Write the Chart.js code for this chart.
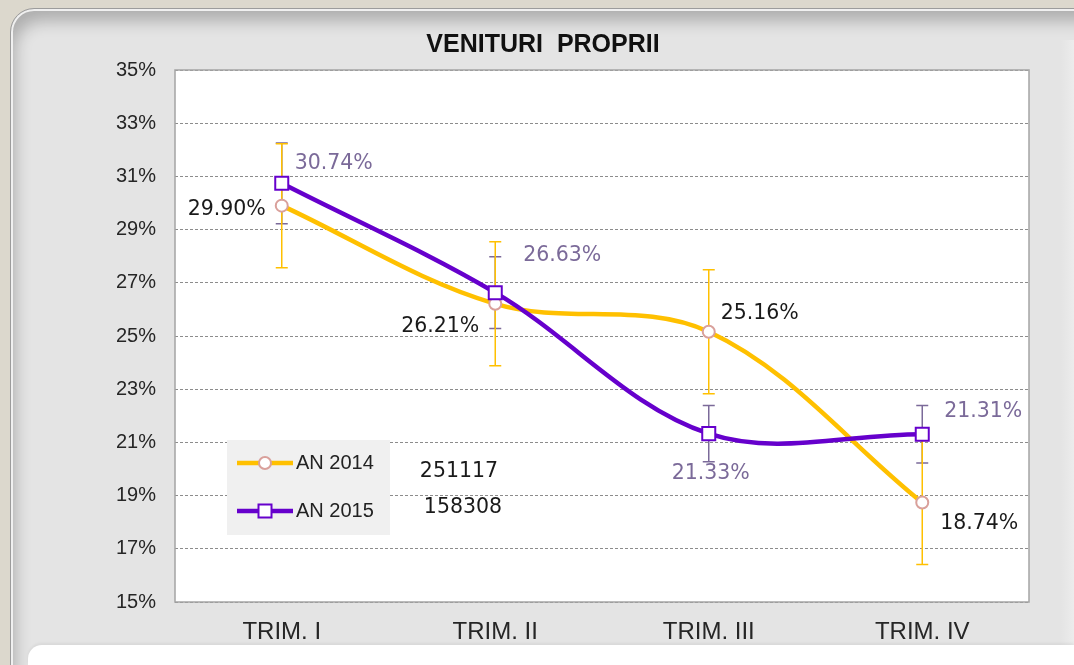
<!DOCTYPE html>
<html>
<head>
<meta charset="utf-8">
<script src="https://cdn.jsdelivr.net/npm/chart.js@4.4.1/dist/chart.umd.min.js"></script>
<style>
  html, body { margin: 0; padding: 0; }
  body { width: 1074px; height: 665px; overflow: hidden; background: #dcd8cd; position: relative; }
  .panel {
    position: absolute; left: 10px; top: 8px; width: 1100px; height: 700px;
    border-radius: 24px; background: #e4e4e4;
    border: 1px solid #9c9c9c;
    box-shadow: inset 0 0 0 2px #f0f0f0, inset 8px 16px 16px -4px rgba(0,0,0,0.24);
  }
  .edge { position: absolute; left: 1061px; top: 40px; width: 13px; height: 605px;
    background: linear-gradient(to right, #e4e4e4, #ececec); }
  .foot { position: absolute; left: 28px; top: 645px; right: 0; bottom: 0;
    background: #fff; border-top-left-radius: 14px; box-shadow: 0 -2px 3px rgba(0,0,0,0.05); }
  canvas { position: absolute; left: 0; top: 0; }
</style>
</head>
<body>
<div class="panel"></div>
<div class="edge"></div>
<div class="foot"></div>
<canvas id="chart" width="1074" height="665"></canvas>
<script>
// ==== Data ====
const categories = ['TRIM. I', 'TRIM. II', 'TRIM. III', 'TRIM. IV'];
const an2014 = [29.90, 26.21, 25.16, 18.74];
const an2015 = [30.74, 26.63, 21.33, 21.31];
const err2014 = [2.33, 2.33, 2.33, 2.33];   // +/- error bar
const err2015 = [1.52, 1.35, 1.06, 1.08];
const notes = ['251117', '158308'];
const titleText = 'VENITURI  PROPRII';

// ==== Styles ====
const YELLOW = '#ffc000';
const PURPLE = '#6600cc';
const PURPLE_SOFT = '#7b6a99';
const LABEL_FONT = '20.5px "DejaVu Sans"';

// label offsets from the point (px)
const offs2014 = [[-55, 4], [-55, 23], [51, -18], [57, 21]];
const offs2015 = [[52, -20], [67, -37], [2, 40], [61, -22]];

const chartBg = {
  id: 'chartBg',
  beforeDraw(chart) {
    const { ctx, chartArea: a } = chart;
    ctx.save();
    ctx.fillStyle = '#fff';
    ctx.fillRect(a.left, a.top, a.right - a.left, a.bottom - a.top);
    ctx.restore();
  },
  afterDraw(chart) {
    const { ctx, chartArea: a } = chart;
    ctx.save();
    ctx.strokeStyle = '#a4a4a4';
    ctx.lineWidth = 1.5;
    ctx.strokeRect(a.left, a.top, a.right - a.left, a.bottom - a.top);
    // title
    ctx.fillStyle = '#111';
    ctx.font = 'bold 25px "Liberation Sans"';
    ctx.textAlign = 'center';
    ctx.textBaseline = 'middle';
    ctx.fillText(titleText, 543, 45);
    ctx.restore();
  }
};

// ---- error bars, drawn under the lines ----
const errorBars = {
  id: 'errorBars',
  beforeDatasetsDraw(chart) {
    const { ctx } = chart;
    const y = chart.scales.y;
    [1, 0].forEach(di => {
      const ds = chart.data.datasets[di];
      const meta = chart.getDatasetMeta(di);
      ctx.save();
      ctx.strokeStyle = ds.errColor;
      ctx.lineWidth = 1.5;
      meta.data.forEach((pt, i) => {
        const v = ds.data[i], e = ds.err[i];
        const top = y.getPixelForValue(v + e), bot = y.getPixelForValue(v - e);
        ctx.beginPath();
        ctx.moveTo(pt.x, top); ctx.lineTo(pt.x, bot);
        ctx.moveTo(pt.x - 6, top); ctx.lineTo(pt.x + 6, top);
        ctx.moveTo(pt.x - 6, bot); ctx.lineTo(pt.x + 6, bot);
        ctx.stroke();
      });
      ctx.restore();
    });
  }
};

// ---- value labels, legend and loose notes ----
const overlay = {
  id: 'overlay',
  afterDatasetsDraw(chart) {
    const { ctx, chartArea: a } = chart;
    ctx.save();
    ctx.font = LABEL_FONT;
    ctx.textAlign = 'center';
    ctx.textBaseline = 'middle';
    chart.data.datasets.forEach((ds, di) => {
      const meta = chart.getDatasetMeta(di);
      ctx.fillStyle = ds.labelColor;
      meta.data.forEach((pt, i) => {
        const o = ds.labelOffs[i];
        ctx.fillText(ds.data[i].toFixed(2) + '%', pt.x + o[0], pt.y + o[1]);
      });
    });

    // legend box
    const lx = a.left + 52, ly = a.top + 370;
    ctx.fillStyle = '#f0f0f0';
    ctx.fillRect(lx, ly, 163, 95);
    chart.data.datasets.forEach((ds, di) => {
      const ry = ly + 23 + di * 48;
      ctx.strokeStyle = ds.borderColor;
      ctx.lineWidth = ds.borderWidth;
      ctx.beginPath();
      ctx.moveTo(lx + 10, ry); ctx.lineTo(lx + 66, ry);
      ctx.stroke();
      ctx.fillStyle = '#fff';
      ctx.strokeStyle = ds.pointBorderColor;
      ctx.lineWidth = 2;
      const cx = lx + 38;
      if (ds.pointStyle === 'rect') {
        ctx.fillRect(cx - 6.5, ry - 6.5, 13, 13);
        ctx.strokeRect(cx - 6.5, ry - 6.5, 13, 13);
      } else {
        ctx.beginPath();
        ctx.arc(cx, ry, 6, 0, Math.PI * 2);
        ctx.fill(); ctx.stroke();
      }
      ctx.fillStyle = '#222';
      ctx.font = '20px "Liberation Sans"';
      ctx.textAlign = 'left';
      ctx.fillText(ds.label, lx + 69, ry);
    });

    // loose numbers next to the legend
    ctx.font = LABEL_FONT;
    ctx.textAlign = 'center';
    ctx.fillStyle = '#1a1a1a';
    ctx.fillText(notes[0], a.left + 284, a.top + 402);
    ctx.fillText(notes[1], a.left + 288, a.top + 438);
    ctx.restore();
  }
};

new Chart(document.getElementById('chart').getContext('2d'), {
  type: 'line',
  data: {
    labels: categories,
    datasets: [
      {
        label: 'AN 2014', data: an2014, err: err2014, order: 2,
        borderColor: YELLOW, borderWidth: 4.5, tension: 0.35, fill: false,
        pointStyle: 'circle', pointRadius: 6, pointBorderWidth: 2,
        pointBorderColor: '#d9a09b', pointBackgroundColor: '#fff',
        errColor: YELLOW, labelColor: '#1a1a1a', labelOffs: offs2014
      },
      {
        label: 'AN 2015', data: an2015, err: err2015, order: 1,
        borderColor: PURPLE, borderWidth: 4.5, tension: 0.35, fill: false,
        pointStyle: 'rect', pointRadius: 9.2, pointBorderWidth: 2,
        pointBorderColor: PURPLE, pointBackgroundColor: '#fff',
        errColor: PURPLE_SOFT, labelColor: PURPLE_SOFT, labelOffs: offs2015
      }
    ]
  },
  options: {
    responsive: false,
    animation: false,
    layout: { padding: { top: 70, right: 45, left: 0, bottom: 0 } },
    plugins: { legend: { display: false }, title: { display: false }, tooltip: { enabled: false } },
    scales: {
      x: {
        offset: true,
        grid: { display: false },
        border: { display: false },
        ticks: { color: '#262626', font: { family: 'Liberation Sans', size: 24 }, padding: 8, maxRotation: 0 },
        afterFit: (s) => { s.height = 63; }
      },
      y: {
        min: 15, max: 35,
        grid: { color: '#8c8c8c', lineWidth: 1, drawTicks: false },
        border: { display: false, dash: [3, 2] },
        ticks: { stepSize: 2, color: '#262626', font: { family: 'Liberation Sans', size: 20 }, padding: 19,
                 callback: (v) => v + '%' },
        afterFit: (s) => { s.width = 175; }
      }
    }
  },
  plugins: [chartBg, errorBars, overlay]
});
</script>
</body>
</html>
